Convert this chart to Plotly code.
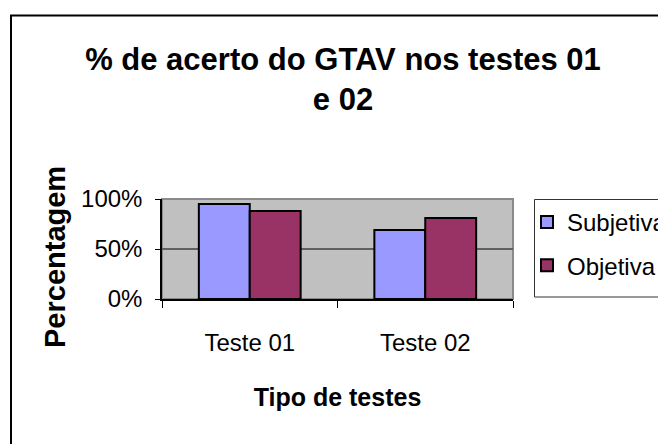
import plotly.graph_objects as go

categories = ["Teste 01", "Teste 02"]
subjetiva = [0.95, 0.69]
objetiva = [0.88, 0.81]
series_names = ["Subjetiva", "Objetiva"]
y_ticks = [0, 0.5, 1.0]
y_tick_labels = ["0%", "50%", "100%"]

# the page adds an 8px body margin; work in screen pixels and shift
OFF = 8
W, H = 666, 444
PL, PR, PT, PB = 162 - OFF, 513 - OFF, 199 - OFF, 299 - OFF   # plot area (figure px)
ML, MR, MT, MB = PL, W - PR, PT, H - PB
PW = PR - PL
PH = PB - PT

FONT = "Liberation Sans, Arial, sans-serif"

def px_x(sx):
    return (sx - OFF - PL) / PW

def px_y(sy):
    return (PB - (sy - OFF)) / PH

fig = go.Figure()
fig.add_trace(go.Bar(
    x=categories, y=subjetiva, name=series_names[0], legendgroup="a",
    marker=dict(color="#9999FF", line=dict(color="black", width=2)),
))
fig.add_trace(go.Bar(
    x=categories, y=objetiva, name=series_names[1], legendgroup="b",
    marker=dict(color="#993366", line=dict(color="black", width=2)),
))

fig.update_layout(
    width=W, height=H,
    margin=dict(l=ML, r=MR, t=MT, b=MB, autoexpand=False),
    paper_bgcolor="white",
    plot_bgcolor="#C0C0C0",
    barmode="group", bargap=0.42, bargroupgap=0,
    title=dict(
        text="% de acerto do GTAV nos testes 01<br>e 02",
        x=(343 - OFF) / W, xanchor="center", xref="container",
        y=1 - 62 / H, yanchor="middle", yref="container",
        font=dict(family=FONT, size=31, color="black", weight="bold"),
    ),
    xaxis=dict(
        type="category", tickson="boundaries",
        ticks="outside", ticklen=7, tickcolor="black", tickwidth=1,
        showline=True, linecolor="black", linewidth=1.5,
        showgrid=False,
        tickfont=dict(family=FONT, size=24, color="black"),
        ticklabelstandoff=21,
        title=dict(text="Tipo de testes", standoff=34,
                   font=dict(family=FONT, size=25, color="black", weight="bold")),
    ),
    yaxis=dict(
        range=[0, 1], tickvals=y_ticks, ticktext=y_tick_labels,
        ticks="outside", ticklen=5, tickcolor="black", tickwidth=1,
        showline=True, linecolor="black", linewidth=1.5,
        showgrid=True, gridcolor="#606060", gridwidth=1.5,
        zeroline=False,
        tickfont=dict(family=FONT, size=24, color="black"),
        ticklabelstandoff=8,
    ),
    annotations=[
        dict(text="Percentagem", xref="paper", yref="paper",
             x=px_x(55), y=px_y(257), xanchor="center", yanchor="middle",
             textangle=-90, showarrow=False,
             font=dict(family=FONT, size=29, color="black", weight="bold")),
    ],
    legend=dict(
        x=px_x(527), xanchor="left", y=px_y(200), yanchor="top",
        bgcolor="rgba(0,0,0,0)", borderwidth=0,
        font=dict(family=FONT, size=24, color="black"),
        itemwidth=30, tracegroupgap=9, traceorder="grouped",
    ),
    shapes=[
        # plot-area border (grey top/right)
        dict(type="rect", xref="paper", yref="paper",
             x0=0, x1=1, y0=0, y1=1,
             line=dict(color="#8a8a8a", width=2), fillcolor="rgba(0,0,0,0)", layer="between"),
        # outer chart frame
        dict(type="rect", xref="paper", yref="paper",
             x0=px_x(11), x1=px_x(720), y0=px_y(520), y1=px_y(15.5),
             line=dict(color="black", width=2), fillcolor="rgba(0,0,0,0)", layer="below"),
        # legend box
        dict(type="rect", xref="paper", yref="paper",
             x0=px_x(534.5), x1=px_x(720), y0=px_y(297), y1=px_y(199.5),
             line=dict(color="#333333", width=1), fillcolor="white", layer="below"),
    ],
)

fig.write_html("out.html")
